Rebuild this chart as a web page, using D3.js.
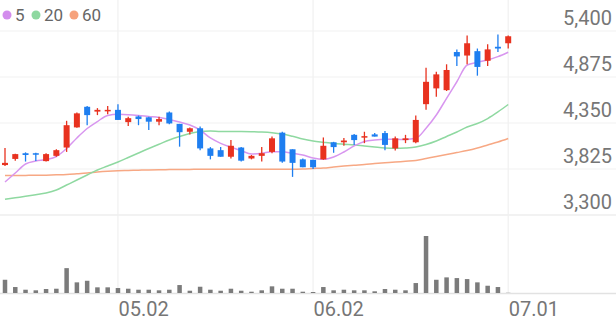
<!DOCTYPE html>
<html>
<head>
<meta charset="utf-8">
<script src="https://cdn.jsdelivr.net/npm/d3@7"></script>
<style>
  html, body { margin: 0; padding: 0; background: #fff; }
  svg { display: block; font-family: Roboto, "Noto Sans", sans-serif; }
</style>
</head>
<body>
<svg id="chart" width="616" height="321"></svg>
<script>
const dates = ["04.16","04.17","04.18","04.21","04.22","04.23","04.24","04.25","04.28","04.29",
  "04.30","05.02","05.07","05.08","05.09","05.12","05.13","05.14","05.15","05.16",
  "05.19","05.20","05.21","05.22","05.23","05.26","05.27","05.28","05.29","05.30",
  "06.02","06.04","06.05","06.09","06.10","06.11","06.12","06.13","06.16","06.17",
  "06.18","06.19","06.20","06.23","06.24","06.25","06.26","06.27","06.30","07.01"];

const open  = [3870,3940,4005,4005,3915,3975,4070,4300,4535,4480,
  4485,4500,4360,4425,4415,4365,4470,4340,4250,4290,
  4060,4040,3965,4070,3945,3975,4020,4240,4050,3935,
  3930,3935,4130,4130,4215,4185,4220,4235,4060,4155,
  4130,4565,4745,4725,5160,5120,5170,5060,5220,5260];
const high  = [4065,4000,4015,4010,4005,4050,4375,4470,4545,4520,
  4545,4565,4420,4435,4420,4420,4480,4340,4300,4310,
  4075,4075,4155,4075,3985,4075,4195,4250,4050,3945,
  3930,4185,4135,4180,4225,4250,4235,4260,4195,4215,
  4435,4980,4935,5020,5190,5350,5200,5250,5360,5350];
const low   = [3860,3920,3910,3915,3910,3965,4020,4295,4325,4440,
  4450,4385,4315,4325,4270,4325,4335,4080,4220,4040,
  3935,3965,3945,3910,3935,3910,4005,3895,3735,3845,
  3825,3930,4010,4090,4100,4120,4195,4040,4035,4120,
  4120,4500,4650,4715,5000,5020,4890,5000,5160,5200];
const close = [3895,3995,3985,3990,3995,4040,4325,4460,4440,4500,
  4500,4385,4405,4395,4365,4395,4345,4245,4290,4060,
  3975,3965,4090,3920,3975,4005,4175,3910,3895,3845,
  3845,4090,4075,4150,4155,4200,4195,4100,4175,4175,
  4385,4820,4905,4955,5110,5260,4990,5190,5200,5340];
const volume = [532000,240000,132000,108000,160000,172000,1000000,428000,492000,228000,
  228000,200000,172000,132000,132000,108000,132000,320000,92000,252000,
  132000,92000,172000,92000,52000,108000,268000,172000,172000,52000,
  40000,240000,108000,132000,108000,108000,68000,160000,132000,108000,
  400000,2292000,532000,628000,600000,560000,428000,292000,240000,8000];
const ma5  = [3677,3779,3882,3916,3933,3968,4059,4179,4287,4367,
  4436,4449,4445,4436,4424,4413,4390,4361,4327,4270,
  4179,4118,4073,4034,3996,4004,4022,4022,4004,3985,
  3951,3936,3962,4019,4088,4139,4156,4164,4164,4162,
  4175,4290,4441,4632,4821,5012,5043,5069,5107,5157];
const ma20 = [3479,3496,3513,3531,3551,3585,3642,3699,3757,3814,
  3859,3905,3956,4008,4059,4107,4156,4196,4230,4253,
  4259,4253,4253,4253,4251,4247,4239,4224,4198,4167,
  4145,4130,4116,4107,4099,4088,4076,4065,4061,4065,
  4076,4105,4145,4196,4247,4304,4344,4401,4476,4561];
const ma60 = [3751,3751,3752,3753,3755,3758,3762,3770,3779,3791,
  3800,3806,3809,3812,3815,3817,3818,3819,3820,3822,
  3822,3822,3822,3822,3822,3822,3822,3822,3822,3825,
  3831,3836,3848,3859,3868,3876,3887,3896,3905,3913,
  3922,3945,3968,3990,4013,4036,4065,4099,4133,4173];

const yTicks = [5400, 4875, 4350, 3825, 3300];
const xTicks = ["05.02", "06.02", "07.01"];
const legendLabels = ["5", "20", "60"];

const colors = { up: "#e8321f", down: "#1e7ef0", ma5: "#d896ef", ma20: "#8fd9a1", ma60: "#f7a884", vol: "#7b7b7b" };
const legendColors = ["#d38ded", "#8ed8a0", "#f6a27c"];

const svg = d3.select("#chart");
const W = 616;

const x = d3.scalePoint().domain(dates).range([5, 508.2]);
const y = d3.scaleLinear().domain([3300, 5400]).range([215, 31]);
const yv = d3.scaleLinear().domain([0, d3.max(volume)]).range([293, 236]);

// horizontal grid
svg.append("g").selectAll("line").data(yTicks).join("line")
  .attr("x1", 0).attr("x2", W)
  .attr("y1", d => y(d)).attr("y2", d => y(d))
  .attr("stroke", d => d === 3300 ? "#e6e6e6" : "#f1f1f1")
  .attr("stroke-width", 1.2);

// vertical grid
svg.append("g").selectAll("line").data(xTicks).join("line")
  .attr("x1", d => x(d)).attr("x2", d => x(d))
  .attr("y1", 0).attr("y2", 293)
  .attr("stroke", "#f0f0f0").attr("stroke-width", 1.2);

// volume baseline
svg.append("line").attr("x1", 0).attr("x2", W).attr("y1", 293.5).attr("y2", 293.5)
  .attr("stroke", "#e2e2e2").attr("stroke-width", 1.5);

// MA lines
const idx = d3.range(dates.length);
function maLine(arr, color) {
  const line = d3.line().x(i => x(dates[i])).y(i => y(arr[i])).curve(d3.curveMonotoneX);
  svg.append("path").datum(idx).attr("d", line)
    .attr("fill", "none").attr("stroke", color).attr("stroke-width", 1.5);
}
maLine(ma60, colors.ma60);
maLine(ma20, colors.ma20);
maLine(ma5, colors.ma5);

// candles
const bodyW = 6;
const cg = svg.append("g").selectAll("g").data(idx).join("g");
cg.append("line")
  .attr("x1", i => x(dates[i])).attr("x2", i => x(dates[i]))
  .attr("y1", i => y(high[i])).attr("y2", i => y(low[i]))
  .attr("stroke", i => close[i] >= open[i] ? colors.up : colors.down)
  .attr("stroke-width", 1.3);
cg.append("rect")
  .attr("x", i => x(dates[i]) - bodyW / 2)
  .attr("width", bodyW)
  .attr("y", i => y(Math.max(open[i], close[i])))
  .attr("height", i => Math.max(1.5, Math.abs(y(open[i]) - y(close[i]))))
  .attr("fill", i => close[i] >= open[i] ? colors.up : colors.down);

// volume bars
const volW = 4.5;
svg.append("g").selectAll("rect").data(idx).join("rect")
  .attr("x", i => x(dates[i]) - volW / 2)
  .attr("width", volW)
  .attr("y", i => yv(volume[i]))
  .attr("height", i => 293 - yv(volume[i]))
  .attr("fill", colors.vol);

// y axis labels
const yAxis = svg.append("g").attr("transform", `translate(612,0)`)
  .call(d3.axisLeft(y).tickValues(yTicks).tickSize(0).tickPadding(0).tickFormat(d3.format(",")));
yAxis.select(".domain").remove();
yAxis.selectAll("text").attr("dy", -7).attr("x", 0)
  .attr("fill", "#767676").style("font-size", "20px").style("font-family", "Roboto, sans-serif");

// x axis labels
const xAxis = svg.append("g").attr("transform", `translate(0,293)`)
  .call(d3.axisBottom(x).tickValues(xTicks).tickSize(0).tickPadding(0));
xAxis.select(".domain").remove();
xAxis.selectAll("text").attr("y", 23).attr("dy", 0).attr("text-anchor", "start")
  .attr("fill", "#767676").style("font-size", "20px").style("font-family", "Roboto, sans-serif");

// legend
const legendX = [7, 36, 74];
const lg = svg.append("g").selectAll("g").data(legendLabels).join("g")
  .attr("transform", (d, i) => `translate(${legendX[i]},15)`);
lg.append("circle").attr("r", 4.5).attr("fill", (d, i) => legendColors[i]);
lg.append("text").attr("x", 8).attr("y", 6.3).text(d => d)
  .attr("fill", "#666").style("font-size", "17px").style("font-family", "Roboto, sans-serif");
</script>
</body>
</html>
